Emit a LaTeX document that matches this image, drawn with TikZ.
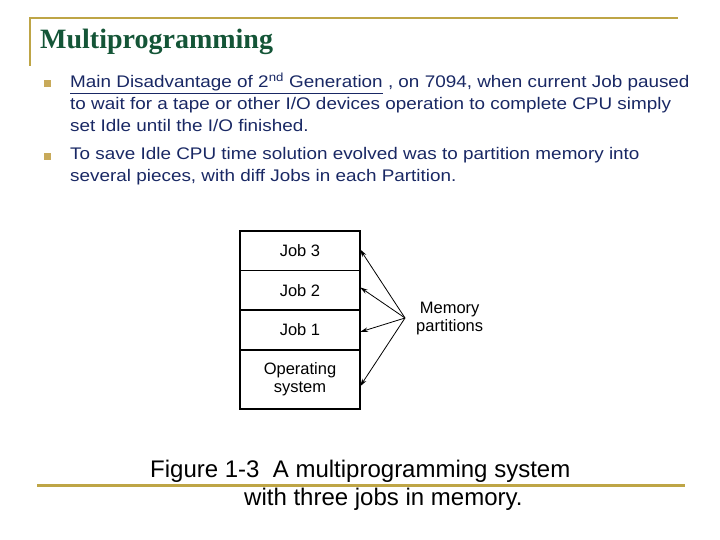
\documentclass[tikz,border=0pt]{standalone}
\usepackage{fontspec}
\setmainfont{Liberation Serif}
\setsansfont{Liberation Sans}
\newfontfamily\bodyfont[FakeStretch=1.125]{Liberation Sans}
\usetikzlibrary{arrows.meta}
\definecolor{gold}{RGB}{190,165,70}
\definecolor{bulletgold}{RGB}{200,170,90}
\definecolor{titlegreen}{RGB}{20,85,55}
\definecolor{textblue}{RGB}{25,40,100}
\tikzset{
  rule/.style={draw=gold, line width=2pt},
  bulletsq/.style={fill=bulletgold, minimum width=7pt, minimum height=7pt, inner sep=0pt},
  bullettext/.style={anchor=base west, inner sep=0pt, text=textblue,
     font=\bodyfont\fontsize{16.8}{22}\selectfont},
  memrow/.style={draw, line width=1.2pt, minimum width=120pt, inner sep=0pt, outer sep=0pt,
     font=\sffamily\fontsize{16.5}{18}\selectfont, align=center},
  partarrow/.style={-{Stealth[length=8pt,width=4.5pt]}, line width=0.8pt},
  caption/.style={anchor=base west, inner sep=0pt, font=\sffamily\fontsize{24}{28}\selectfont}
}
\begin{document}
\begin{tikzpicture}[x=1pt,y=-1pt]
\useasboundingbox (0,0) rectangle (720,540);
% top rule and left vertical rule
\coordinate (tl) at (30,18);
\coordinate (tr) at (678,18);
\coordinate (lb) at (30,66);
\draw[rule] (lb) -- (tl) -- (tr);
\node[anchor=base west, inner sep=0pt, text=titlegreen,
  font=\fontsize{28}{32}\selectfont\bfseries] (title) at (40,48.5) {Multiprogramming};
% bullets
\node[bulletsq] (b1) at (47.5,84) {};
\node[bulletsq] (b2) at (47.5,156.5) {};
\node[bullettext] (t1a) at (70,88) {\underline{Main Disadvantage of 2\textsuperscript{nd} Generation} , on 7094, when current Job paused};
\node[bullettext] (t1b) at (70,110) {to wait for a tape or other I/O devices operation to complete CPU simply};
\node[bullettext] (t1c) at (70,132) {set Idle until the I/O finished.};
\node[bullettext] (t2a) at (70,159.5) {To save Idle CPU time solution evolved was to partition memory into};
\node[bullettext] (t2b) at (70,182) {several pieces, with diff Jobs in each Partition.};
% memory figure
\node[memrow, minimum height=39.5pt, anchor=north west] (j3) at (240,231) {Job 3};
\node[memrow, minimum height=39.5pt, anchor=north] (j2) at (j3.south) {Job 2};
\node[memrow, minimum height=40pt, anchor=north] (j1) at (j2.south) {Job 1};
\node[memrow, minimum height=59pt, anchor=north] (os) at (j1.south) {Operating\\system};
\draw[line width=2.2pt] (j1.south west) -- (j1.south east);
\node[anchor=west, inner sep=0pt, align=center, font=\sffamily\fontsize{16.5}{18}\selectfont] (mem) at (416,319) {Memory\\partitions};
\coordinate (src) at (405,318);
\draw[partarrow] (src) -- ([yshift=1.5pt]j3.east);
\draw[partarrow] (src) -- ([yshift=3pt]j2.east);
\draw[partarrow] (src) -- ([yshift=-2pt]j1.east);
\draw[partarrow] (src) -- ([yshift=-7pt]os.east);
% caption
\node[caption] (c1) at (150,477) {Figure 1-3\ \ A multiprogramming system};
\coordinate (rl) at (37,485.5);
\coordinate (rr) at (685,485.5);
\draw[rule, line width=2.5pt] (rl) -- (rr);
\node[caption] (c2) at (244,505.5) {with three jobs in memory.};
\end{tikzpicture}
\end{document}
